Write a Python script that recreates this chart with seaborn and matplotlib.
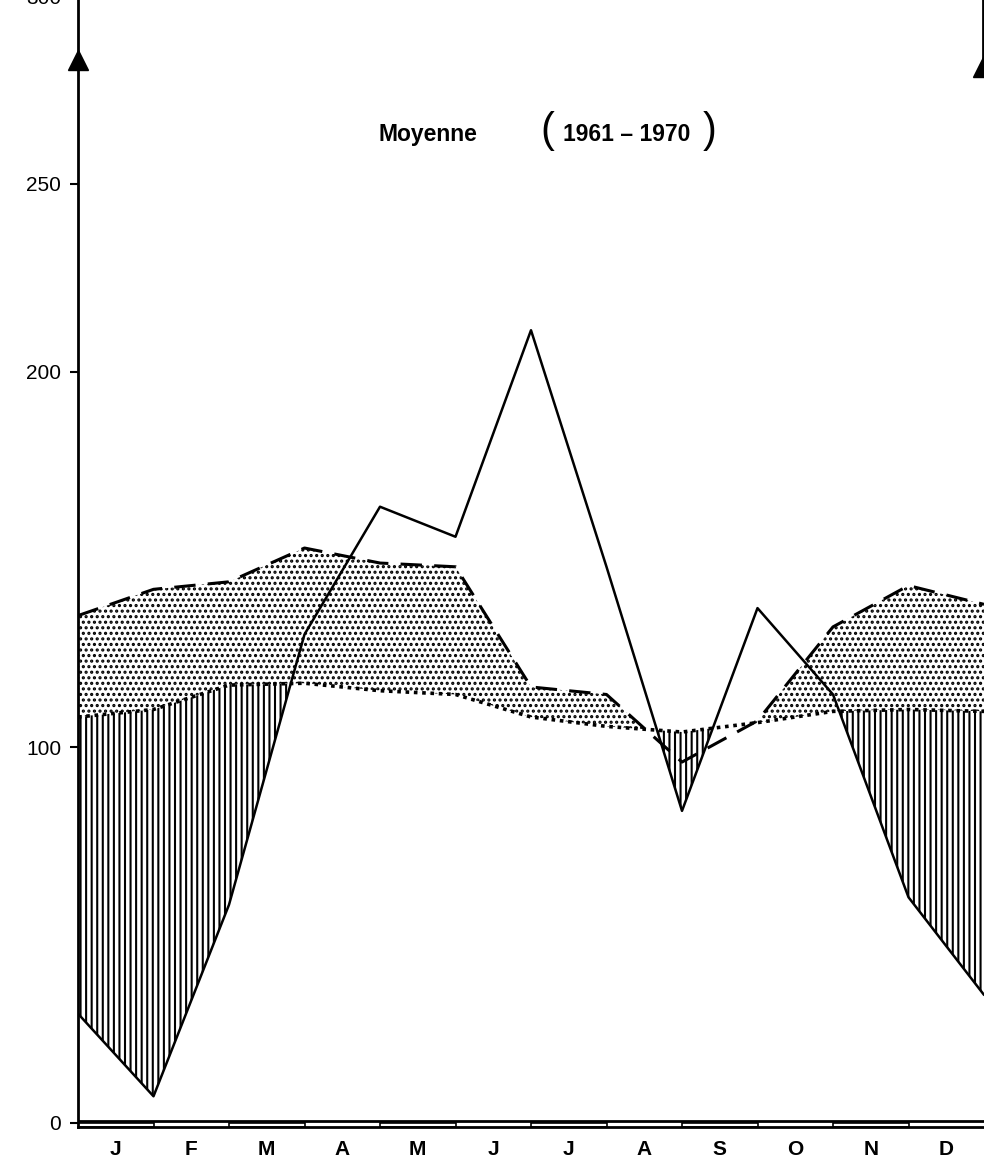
import numpy as np
import pandas as pd
import matplotlib
matplotlib.use("Agg")
import matplotlib.pyplot as plt
import seaborn as sns

# month boundaries (13 points, Jan -> Jan)
pos = np.arange(13)
month_labels = ["J", "F", "M", "A", "M", "J", "J", "A", "S", "O", "N", "D"]

# precipitation (solid line)
precip = [29, 7, 58, 130, 164, 156, 211, 148, 83, 137, 114, 60, 34]
# upper dashed curve
dashed = [135, 142, 144, 153, 149, 148, 116, 114, 96, 107, 132, 143, 138]
# lower dotted curve
dotted = [108, 110, 116.5, 117, 115, 114, 108, 105.5, 104, 106.5, 109.5, 110, 109.5]

y_ticks = [0, 100, 200, 250, 300]

sns.set_theme(style="white")
plt.rcParams["font.family"] = ["Liberation Sans", "DejaVu Sans"]
plt.rcParams["hatch.linewidth"] = 1.5
plt.rcParams["text.color"] = "black"
plt.rcParams["xtick.color"] = "black"
plt.rcParams["ytick.color"] = "black"

df = pd.DataFrame({"pos": pos, "precip": precip, "dashed": dashed, "dotted": dotted})

fig = plt.figure(figsize=(9.84, 11.71), dpi=100)
ax = fig.add_axes([78 / 984, 0.0372, 906 / 984, 0.9662])

# stippled band between the dotted and dashed curves
ax.fill_between(df["pos"], df["dotted"], df["dashed"],
                where=df["dashed"] >= df["dotted"], interpolate=True,
                facecolor="none", edgecolor="black", hatch="...", linewidth=0)
# vertical hatching where precipitation falls below the dotted curve
ax.fill_between(df["pos"], df["precip"], df["dotted"],
                where=df["precip"] <= df["dotted"], interpolate=True,
                facecolor="white", edgecolor="black", hatch="|||", linewidth=0)

sns.lineplot(data=df, x="pos", y="dotted", ax=ax, color="black",
             linewidth=2.6, linestyle=(0, (1, 1.3)))
sns.lineplot(data=df, x="pos", y="dashed", ax=ax, color="black",
             linewidth=2.2, linestyle=(0, (7, 4)))
sns.lineplot(data=df, x="pos", y="precip", ax=ax, color="black", linewidth=1.8)

# calendar strip under the zero line
ax.axhline(0.5, color="black", linewidth=2)
for i in range(0, 12, 2):
    ax.bar(i + 0.5, 1.0, width=1.0, bottom=-1.1, facecolor="none",
           edgecolor="black", linewidth=1.2)

ax.set_xlim(0, 12)
ax.set_ylim(-1.3, 300)
ax.set_xticks(pos[:-1] + 0.5)
ax.set_xticklabels(month_labels, fontsize=15, fontweight="bold")
ax.set_yticks(y_ticks)
ax.set_yticklabels([str(v) for v in y_ticks], fontsize=15)
ax.tick_params(axis="x", length=0, pad=9)
ax.tick_params(axis="y", length=6, width=1.5, direction="out", left=True, pad=6)
ax.set_xlabel("")
ax.set_ylabel("")

for side in ["top", "right"]:
    ax.spines[side].set_visible(False)
ax.spines["left"].set_linewidth(2)
ax.spines["bottom"].set_linewidth(2)
ax.spines["left"].set_color("black")
ax.spines["bottom"].set_color("black")

# axis arrows
ax.plot([0], [283], marker="^", markersize=14, color="black", clip_on=False)
ax.plot([11.985, 11.985], [281, 300], color="black", linewidth=2, clip_on=False)
ax.plot([11.985], [281], marker="^", markersize=14, color="black", clip_on=False)

# title
ax.text(4.64, 263, "Moyenne", fontsize=16.5, fontweight="bold", ha="center", va="center")
ax.text(7.27, 263, "1961 \u2013 1970", fontsize=16.5, fontweight="bold", ha="center", va="center")
ax.text(6.22, 264, "(", fontsize=30, ha="center", va="center")
ax.text(8.36, 264, ")", fontsize=30, ha="center", va="center")

fig.savefig("out.png", dpi=100)
